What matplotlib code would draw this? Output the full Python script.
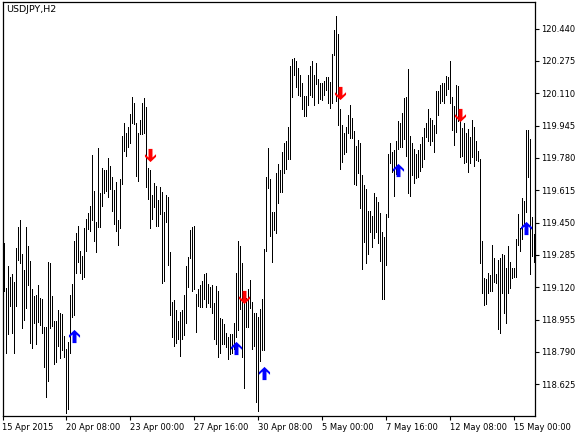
import matplotlib
matplotlib.use("Agg")
import matplotlib.pyplot as plt
from matplotlib.path import Path
import numpy as np

symbol_label = "USDJPY,H2"

highs = [
119.344,119.114,119.229,119.174,119.188,119.149,119.319,119.429,119.463,119.290,
119.208,119.426,119.331,119.252,119.109,119.075,119.080,119.132,119.063,119.058,
118.915,118.915,119.251,119.246,119.075,118.949,118.949,119.004,118.987,118.982,
118.871,118.803,118.842,119.080,119.137,119.358,119.395,119.433,119.307,119.280,
119.421,119.467,119.497,119.535,119.795,119.611,119.455,119.829,119.599,119.727,
119.719,119.719,119.778,119.739,119.685,119.616,119.659,119.463,119.671,119.892,
119.957,119.909,119.936,120.004,120.090,120.062,119.960,119.909,119.974,120.059,
120.084,120.038,119.727,119.719,119.591,119.654,119.637,119.565,119.630,119.608,
119.506,119.591,119.579,119.298,119.045,119.055,119.004,118.949,118.995,119.004,
119.079,119.229,119.276,119.412,119.426,119.433,119.086,119.110,119.132,119.154,
119.188,119.191,119.137,119.123,119.132,119.038,119.127,119.103,118.963,118.956,
118.933,118.888,118.868,118.882,118.882,118.936,119.191,119.358,119.331,119.242,
119.089,119.064,119.110,119.157,119.047,118.991,118.987,118.970,119.008,119.059,
119.314,119.681,119.831,119.671,119.506,119.506,119.705,119.749,119.719,119.812,
119.855,119.868,119.937,120.250,120.284,120.289,120.277,120.238,120.204,120.161,
120.097,120.097,120.204,120.250,120.277,120.204,120.267,120.182,120.165,120.165,
120.175,120.195,120.195,120.170,120.311,120.433,120.505,120.413,120.028,119.948,
119.909,119.940,119.999,120.051,119.982,119.919,119.841,119.872,119.855,119.693,
119.642,119.620,119.511,119.511,119.484,119.600,119.583,119.557,119.501,119.404,
119.378,119.494,119.800,119.855,119.812,119.821,119.868,119.971,119.960,120.011,
120.085,120.093,120.233,119.892,119.855,119.824,119.800,119.821,119.851,119.886,
119.931,119.960,120.028,119.983,119.974,119.948,120.124,120.124,120.153,120.165,
120.165,120.199,120.192,120.277,120.090,120.045,120.153,120.148,120.028,119.931,
119.957,119.909,119.926,119.885,119.974,119.940,119.868,119.817,119.773,119.358,
119.166,119.160,119.194,119.183,119.336,119.268,119.188,119.259,119.268,119.290,
119.285,119.217,119.331,119.251,119.217,119.217,119.365,119.494,119.421,119.574,
119.562,119.923,119.923,119.875,119.480,119.390]

lows = [
119.103,118.783,118.881,119.024,118.888,118.786,119.024,119.259,119.246,118.910,
118.953,119.012,119.132,118.834,118.812,118.936,118.829,118.944,118.927,118.888,
118.715,118.561,118.643,118.910,118.922,118.728,118.740,118.820,118.757,118.800,
118.766,118.476,118.497,118.786,118.970,118.978,119.194,119.251,119.194,119.160,
119.174,119.307,119.416,119.409,119.463,119.358,119.302,119.426,119.426,119.535,
119.603,119.613,119.582,119.620,119.511,119.443,119.409,119.336,119.421,119.647,
119.817,119.790,119.834,119.858,119.960,119.953,119.688,119.664,119.902,119.902,
119.909,119.630,119.569,119.421,119.467,119.531,119.433,119.433,119.494,119.143,
119.154,119.455,119.232,118.978,118.864,118.822,118.837,118.854,118.771,118.854,
118.875,118.936,119.120,119.268,119.103,119.110,118.894,119.025,119.021,119.018,
119.059,119.021,119.042,119.018,118.991,118.854,118.831,118.766,118.786,118.831,
118.831,118.817,118.752,118.780,118.783,118.803,118.868,118.902,119.008,118.766,
118.604,118.919,118.916,119.013,118.803,118.820,118.536,118.490,118.746,118.800,
118.800,119.307,119.625,119.382,119.251,119.412,119.399,119.552,119.608,119.608,
119.702,119.722,119.773,119.773,120.090,120.204,120.141,120.102,120.097,120.028,
119.994,119.994,120.051,120.102,120.093,120.051,120.158,120.062,120.079,120.076,
120.102,120.127,120.059,120.034,120.062,120.306,120.073,119.948,119.722,119.761,
119.800,119.812,119.906,119.880,119.880,119.647,119.642,119.705,119.523,119.212,
119.353,119.242,119.290,119.404,119.327,119.370,119.404,119.348,119.256,119.058,
119.058,119.234,119.477,119.753,119.710,119.586,119.698,119.824,119.838,119.834,
119.875,119.790,119.603,119.586,119.693,119.654,119.676,119.681,119.715,119.736,
119.773,119.886,119.868,119.846,119.868,119.812,119.906,119.999,120.062,120.073,
120.062,120.102,120.131,120.062,119.923,119.846,119.914,119.971,119.783,119.790,
119.756,119.761,119.710,119.756,119.787,119.739,119.770,119.766,119.246,119.089,
119.030,119.035,119.089,119.103,119.103,119.149,119.140,118.905,118.885,119.089,
118.990,118.936,119.092,119.114,119.166,119.171,119.171,119.336,119.307,119.365,
119.433,119.506,119.681,119.188,119.280,119.251]

# signal arrows (bar index, price)
up_idx = [35, 116, 130, 197, 261]
up_price = [118.869, 118.810, 118.682, 119.719, 119.421]
down_idx = [73, 120, 168, 228]
down_price = [119.795, 119.068, 120.109, 119.997]

y_ticks = [120.440, 120.275, 120.110, 119.945, 119.780, 119.615,
           119.450, 119.285, 119.120, 118.955, 118.790, 118.625]
x_tick_idx = [-1, 31, 63, 95, 127, 159, 191, 223, 255]
x_tick_labels = ['15 Apr 2015', '20 Apr 08:00', '23 Apr 00:00', '27 Apr 16:00',
                 '30 Apr 08:00', '5 May 00:00', '7 May 16:00', '12 May 08:00',
                 '15 May 00:00']

W, H = 587, 436
fig = plt.figure(figsize=(W / 100, H / 100), dpi=100)
fig.patch.set_facecolor('white')
ax = fig.add_axes([2.5 / W, 20 / H, 532.5 / W, 414 / H])
ax.set_facecolor('white')

idx = np.arange(len(highs))
ax.vlines(idx, lows, highs, color='black', linewidth=0.7, antialiased=False)

up_verts = [(0, 0.5), (0.42, 0.1), (0.42, -0.1), (0.15, 0.15), (0.15, -0.5),
            (-0.15, -0.5), (-0.15, 0.15), (-0.42, -0.1), (-0.42, 0.1), (0, 0.5)]
up_path = Path(up_verts, closed=True)
down_path = Path([(x, -y) for x, y in up_verts], closed=True)

ax.plot(up_idx, up_price, linestyle='none', marker=up_path, markersize=9.5,
        color='#0000ff', markeredgewidth=0)
ax.plot(down_idx, down_price, linestyle='none', marker=down_path, markersize=9.5,
        color='#ff0000', markeredgewidth=0)

ax.set_xlim(-0.915, 265.33)
ax.set_ylim(118.463, 120.576)

ax.yaxis.tick_right()
ax.set_yticks(y_ticks)
ax.set_yticklabels([f"{v:.3f}" for v in y_ticks])
ax.set_xticks(x_tick_idx)
ax.set_xticklabels(x_tick_labels, ha='left')
ax.tick_params(axis='y', direction='out', length=3, width=0.8, pad=1.5,
               labelsize=6, colors='black')
ax.tick_params(axis='x', direction='out', length=3, width=0.8, pad=2,
               labelsize=6, colors='black')
for s in ax.spines.values():
    s.set_linewidth(0.9)
    s.set_color('black')

fig.text(6 / W, 1 - 5 / H, symbol_label, fontsize=6.8, va='top', ha='left',
         color='black')

fig.savefig('out.png', dpi=100, facecolor='white')
